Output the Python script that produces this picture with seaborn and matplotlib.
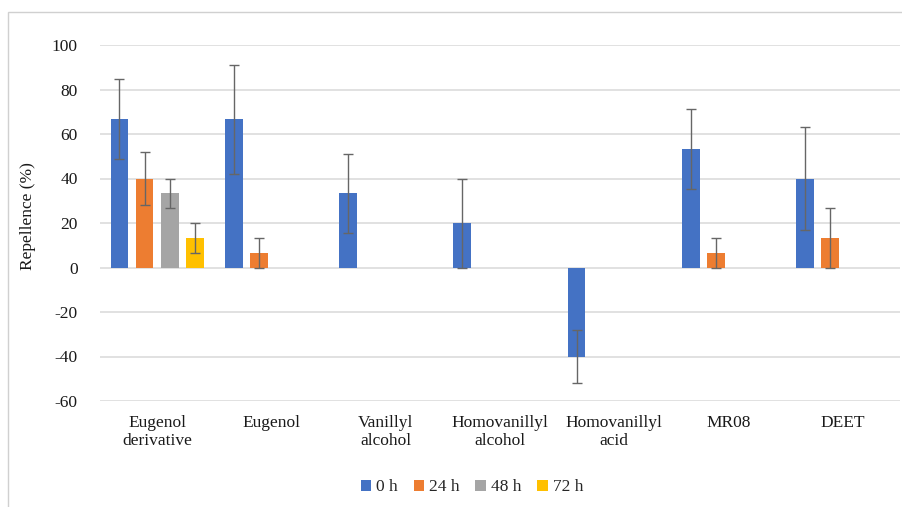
import numpy as np
import pandas as pd
import matplotlib
matplotlib.use("Agg")
import matplotlib.pyplot as plt
import seaborn as sns

categories = ["Eugenol\nderivative", "Eugenol", "Vanillyl\nalcohol", "Homovanillyl\nalcohol",
              "Homovanillyl\nacid", "MR08", "DEET"]
times = ["0 h", "24 h", "48 h", "72 h"]

rep_0h = [66.7, 66.7, 33.3, 20.0, -40.0, 53.3, 40.0]
rep_24h = [40.0, 6.7, np.nan, np.nan, np.nan, 6.7, 13.3]
rep_48h = [33.3, np.nan, np.nan, np.nan, np.nan, np.nan, np.nan]
rep_72h = [13.3, np.nan, np.nan, np.nan, np.nan, np.nan, np.nan]

err_0h = [18.0, 24.5, 17.8, 20.0, 11.8, 17.8, 23.0]
err_24h = [11.8, 6.7, np.nan, np.nan, np.nan, 6.7, 13.3]
err_48h = [6.7, np.nan, np.nan, np.nan, np.nan, np.nan, np.nan]
err_72h = [6.7, np.nan, np.nan, np.nan, np.nan, np.nan, np.nan]

colors = ["#4472C4", "#ED7D31", "#A5A5A5", "#FFC000"]

rows = []
for t, vals, errs in zip(times, [rep_0h, rep_24h, rep_48h, rep_72h],
                         [err_0h, err_24h, err_48h, err_72h]):
    for c, v, e in zip(categories, vals, errs):
        rows.append({"category": c, "time": t, "value": v, "err": e})
df = pd.DataFrame(rows)

sns.set_style("white")
plt.rcParams["font.family"] = ["Liberation Serif", "DejaVu Serif"]
plt.rcParams["axes.unicode_minus"] = False

fig = plt.figure(figsize=(9.03, 5.07), dpi=100)
ax = fig.add_axes([100 / 903, 1 - 401 / 507, 800 / 903, 356 / 507])

sns.barplot(data=df.dropna(subset=["value"]), x="category", y="value", hue="time",
            order=categories, hue_order=times, palette=colors, errorbar=None,
            saturation=1, width=0.88, gap=0.3, linewidth=0, ax=ax, zorder=2)

# error bars from the table, placed on each drawn bar
for t, cont in zip(times, ax.containers):
    sub = df[df["time"] == t].set_index("category")
    for bar in cont:
        xc = bar.get_x() + bar.get_width() / 2
        cat = categories[int(round(xc))]
        v, e = sub.loc[cat, "value"], sub.loc[cat, "err"]
        if np.isnan(v):
            continue
        ax.errorbar(xc, v, yerr=e, color="#666666", elinewidth=1.0,
                    capsize=3.5, capthick=1.0, zorder=3)

ax.set_ylim(-60, 100)
ax.set_yticks(range(-60, 101, 20))
ax.set_xlim(-0.5, len(categories) - 0.5)
ax.yaxis.grid(True, color="#d9d9d9", linewidth=1.1, zorder=0)
ax.set_axisbelow(True)
for s in ax.spines.values():
    s.set_visible(False)
ax.tick_params(axis="both", length=0, labelsize=12.5, colors="#1a1a1a")
ax.tick_params(axis="x", pad=10)
ax.tick_params(axis="y", pad=16)
ax.set_xlabel("")
ax.set_ylabel("Repellence (%)", fontsize=12.5, color="#1a1a1a")
ax.yaxis.set_label_coords(-0.08, 0.52)

ax.legend(loc="center", bbox_to_anchor=(0.465, -0.242), ncol=4, frameon=False,
          fontsize=12.5, handlelength=0.6, handleheight=0.6, handletextpad=0.3,
          columnspacing=0.9)

# outer chart frame
fig.patches.append(plt.Rectangle((8 / 903, -0.1), 1.2, 1 - 12 / 507 + 0.1,
                                 transform=fig.transFigure, fill=False,
                                 edgecolor="#d0d0d0", linewidth=1))

fig.savefig("out.png", dpi=100)
